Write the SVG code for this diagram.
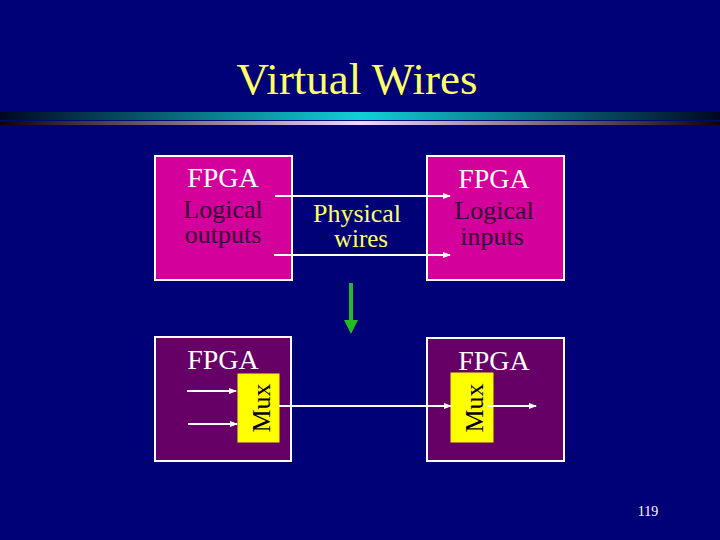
<svg xmlns="http://www.w3.org/2000/svg" width="720" height="540" viewBox="0 0 720 540">
<style>
text{font-family:"Liberation Serif",serif}
.pink{fill:#d4009c;stroke:#fff;stroke-width:2}
.purple{fill:#660066;stroke:#fff;stroke-width:2}
.mux{fill:#ffff00;stroke:#ffff00}
.w{stroke:#fff;stroke-width:2;fill:none;marker-end:url(#ah)}
.t{fill:#fff;font-size:28px}
.d{fill:#330033;font-size:26px}
</style>
<defs>
<marker id="ah" markerWidth="8" markerHeight="6" refX="7" refY="3" orient="auto" markerUnits="userSpaceOnUse"><path d="M0,0L8,3L0,6z" fill="#fff"/></marker>
<linearGradient id="g1"><stop offset="0" stop-color="#000820"/><stop offset="0.5" stop-color="#10d0d8"/><stop offset="1" stop-color="#000820"/></linearGradient>
<linearGradient id="g2"><stop offset="0" stop-color="#100010"/><stop offset="0.5" stop-color="#f0d8ff"/><stop offset="1" stop-color="#100010"/></linearGradient>
</defs>
<rect width="720" height="540" fill="#000077"/>
<text x="357" y="94" text-anchor="middle" font-size="45" fill="#ffff66">Virtual Wires</text>
<rect x="0" y="112" width="720" height="8" fill="url(#g1)"/>
<rect x="0" y="121" width="720" height="4" fill="url(#g2)"/>
<g id="tl"><rect class="pink" x="155" y="156" width="137" height="124"/>
<text class="t" x="223" y="187" text-anchor="middle" font-size="27">FPGA</text>
<text class="d" x="223" y="218" text-anchor="middle">Logical</text>
<text class="d" x="223" y="243" text-anchor="middle" font-size="25">outputs</text></g>
<g id="tr"><rect class="pink" x="427" y="156" width="137" height="124"/>
<text class="t" x="494" y="188" text-anchor="middle" font-size="27">FPGA</text>
<text class="d" x="494" y="219" text-anchor="middle">Logical</text>
<text class="d" x="492" y="245" text-anchor="middle" font-size="25">inputs</text></g>
<g id="pw"><text x="357" y="222" text-anchor="middle" font-size="26" fill="#ffff66">Physical</text>
<text x="361" y="247" text-anchor="middle" font-size="25" fill="#ffff66">wires</text></g>
<g id="bl"><rect class="purple" x="155" y="337" width="136" height="124"/>
<text class="t" x="223" y="369" text-anchor="middle">FPGA</text>
<rect class="mux" x="238" y="374" width="41" height="68"/>
<text x="0" y="0" transform="translate(270,408) rotate(-90)" text-anchor="middle" font-size="26" fill="#000">Mux</text></g>
<g id="br"><rect class="purple" x="427" y="338" width="137" height="123"/>
<text class="t" x="494" y="370" text-anchor="middle">FPGA</text>
<rect class="mux" x="451" y="373" width="42" height="69"/>
<text x="0" y="0" transform="translate(483,408) rotate(-90)" text-anchor="middle" font-size="26" fill="#000">Mux</text></g>
<g id="connectors">
<line class="w" x1="275" y1="196" x2="450" y2="196"/>
<line class="w" x1="274" y1="255" x2="450" y2="255"/>
<line class="w" x1="187" y1="391" x2="236" y2="391"/>
<line class="w" x1="188" y1="424" x2="237" y2="424"/>
<line class="w" x1="279" y1="406" x2="451" y2="406"/>
<line class="w" x1="488" y1="406" x2="536" y2="406"/>
<line x1="351" y1="283" x2="351" y2="322" stroke="#22bb22" stroke-width="4"/>
<path d="M344,320L358,320L351,334z" fill="#22bb22"/>
</g>
<text x="648" y="516" text-anchor="middle" font-size="14" fill="#fff">119</text>
</svg>
